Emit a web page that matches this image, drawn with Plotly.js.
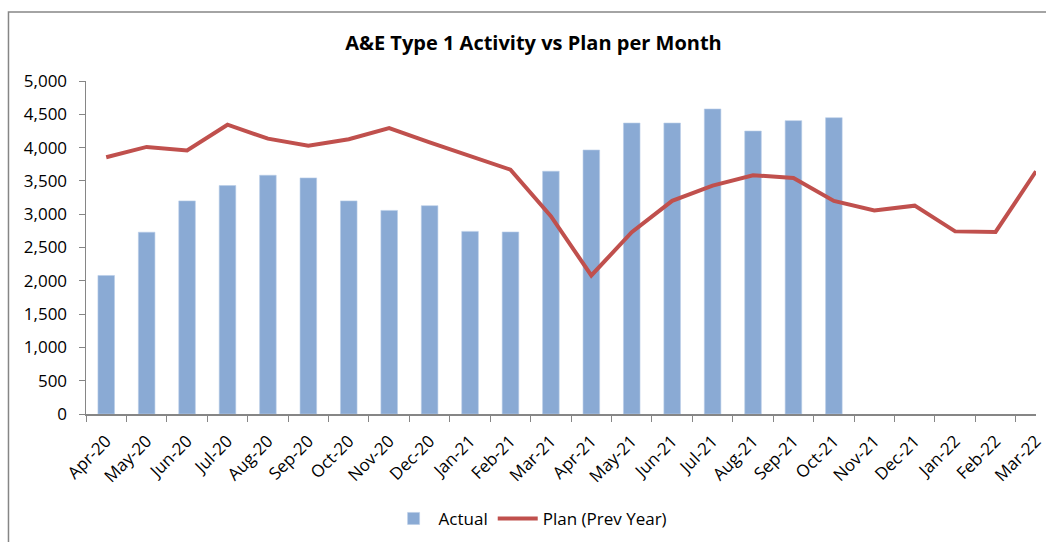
<!DOCTYPE html>
<html>
<head>
<meta charset="utf-8">
<script src="https://cdn.plot.ly/plotly-3.0.1.min.js"></script>
<style>
html,body{margin:0;padding:0;background:#fff;}
#chart{width:1046px;height:542px;}
</style>
</head>
<body>
<div id="chart"></div>
<script>
var months = ["Apr-20","May-20","Jun-20","Jul-20","Aug-20","Sep-20","Oct-20","Nov-20","Dec-20","Jan-21","Feb-21","Mar-21","Apr-21","May-21","Jun-21","Jul-21","Aug-21","Sep-21","Oct-21","Nov-21","Dec-21","Jan-22","Feb-22","Mar-22"];
var actual = [2080,2730,3200,3430,3585,3545,3200,3057,3128,2742,2733,3645,3964,4369,4369,4580,4249,4405,4449];
var plan = [3855,4010,3958,4344,4134,4029,4125,4294,4078,3866,3668,2970,2080,2730,3200,3430,3585,3545,3200,3057,3128,2742,2733,3645];

var font = "'Open Sans', 'Liberation Sans', sans-serif";

var traces = [
  {
    type: 'bar', name: 'Actual',
    x: months.slice(0, actual.length), y: actual,
    marker: {color: '#8AAAD4', line: {color: '#B9CDE8', width: 0.6}},
    hoverinfo: 'x+y'
  },
  {
    type: 'scatter', mode: 'lines', name: 'Plan (Prev Year)',
    x: months, y: plan,
    line: {color: '#C0504D', width: 4}
  }
];

var layout = {
  width: 1046, height: 542,
  paper_bgcolor: '#fff', plot_bgcolor: '#fff',
  margin: {l: 86, r: 10, t: 81, b: 128, autoexpand: false},
  font: {family: font, size: 17, color: '#000'},
  title: {text: '<b>A&E Type 1 Activity vs Plan per Month</b>', font: {family: font, size: 20, color: '#000'}, x: 0.51, xanchor: 'center', y: 0.92, yanchor: 'middle'},
  bargap: 0.59,
  showlegend: true,
  legend: {orientation: 'h', x: 0.468, xanchor: 'center', y: -0.315, yanchor: 'middle', itemwidth: 40, font: {family: font, size: 17}},
  xaxis: {
    type: 'category', categoryorder: 'array', categoryarray: months,
    tickangle: -45, showline: true, linecolor: '#868686', linewidth: 1.5,
    ticks: 'outside', tickson: 'boundaries', ticklen: 6, tickcolor: '#868686',
    ticklabelstandoff: 9,
    showgrid: false, zeroline: false,
    tickfont: {family: font, size: 17}
  },
  yaxis: {
    range: [0, 5000], dtick: 500, tickformat: ',d',
    showline: true, linecolor: '#868686', linewidth: 1.5,
    ticks: 'outside', ticklen: 6, tickcolor: '#868686',
    ticklabelstandoff: 8,
    showgrid: false, zeroline: false,
    tickfont: {family: font, size: 17}
  },
  shapes: [
    {type: 'rect', xref: 'paper', yref: 'paper', x0: -0.0816, x1: 1.05, y0: -0.5, y1: 1.207, line: {color: '#868686', width: 1.5}, fillcolor: 'rgba(0,0,0,0)'}
  ]
};

Plotly.newPlot('chart', traces, layout, {displayModeBar: false, staticPlot: true});
</script>
</body>
</html>
